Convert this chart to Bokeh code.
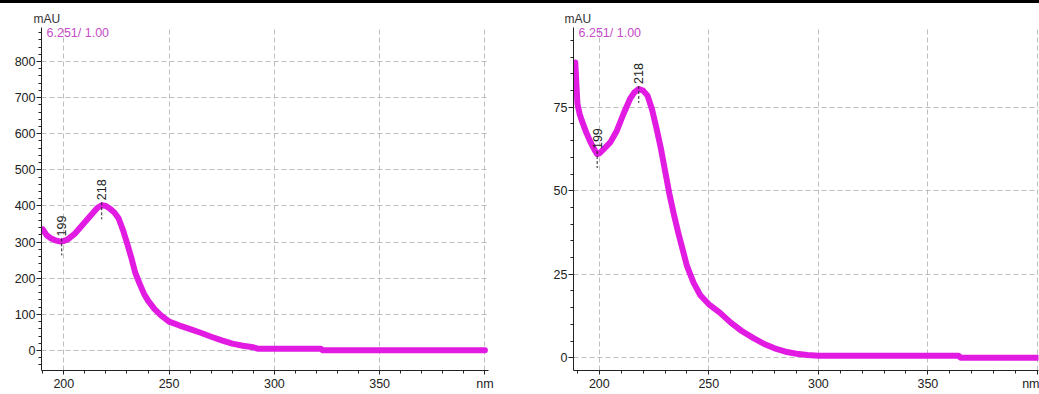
import numpy as np
from bokeh.plotting import figure
from bokeh.layouts import column, row
from bokeh.models import Div, FixedTicker, Range1d
from bokeh.core.properties import value
from bokeh.embed import file_html
from bokeh.resources import INLINE

# ---- data ----
wl_left = [190, 192, 194, 196, 198, 199, 200, 202, 205, 208, 211, 214, 216, 218,
           220, 222, 224, 226, 228, 230, 232, 234, 236, 238, 240, 243, 246, 250,
           255, 260, 265, 270, 275, 280, 285, 290, 292, 300, 310, 322, 323, 340,
           360, 380, 400]
abs_left = [335, 318, 310, 305, 302, 302, 303, 308, 322, 342, 362, 382, 395, 402,
            400, 392, 382, 366, 335, 298, 258, 214, 185, 158, 138, 115, 98, 80,
            69, 59, 49, 38, 28, 19, 13, 9, 5, 5, 5, 5, 0.5, 0.5,
            0.5, 0.5, 0.5]

wl_right = [189, 190, 191, 192, 194, 196, 198, 199, 200, 202, 205, 208, 211, 214,
            216, 218, 220, 222, 224, 226, 228, 230, 232, 234, 236, 238, 240, 243,
            246, 250, 255, 260, 265, 270, 275, 280, 285, 290, 295, 300, 320, 340,
            364, 365, 380, 400]
abs_right = [88.4, 76, 73, 71, 67.5, 64.5, 62, 61, 61.2, 62.5, 64.5, 68, 73, 77.5,
             79.5, 80.5, 80, 78.5, 74.5, 69, 63, 56, 49, 43, 37.5, 32.5, 27.5, 22.5,
             18.8, 16, 13.5, 10.5, 8, 6, 4.2, 2.8, 1.8, 1.2, 0.8, 0.6, 0.6, 0.6,
             0.6, 0, 0, 0]

peak_wl = [199, 218]
peak_left = [302, 402]
peak_right = [61, 80.5]

x_major = [200, 250, 300, 350, 400]
x_minor = list(range(190, 401, 10))
x_label_override = {400: "nm"}
left_y_major = [0, 100, 200, 300, 400, 500, 600, 700, 800]
left_y_minor = list(range(-40, 881, 20))
right_y_major = [0, 25, 50, 75]
right_y_minor = list(range(0, 96, 5))
info_text = "6.251/ 1.00"
y_unit = "mAU"

FONT = "Liberation Sans"
CURVE = "#E11BE1"
INFO = "#C64CC6"
GRID = "#BEBEBE"
AXIS = "#222222"
H = 391


def make_panel(wl, ab, peaks_y, xr, yr, y_major, y_minor, width,
               b_left, b_right, b_top, b_bottom, title_offset):
    p = figure(width=width, height=H, x_range=Range1d(*xr), y_range=Range1d(*yr),
               output_backend="svg", toolbar_location=None,
               min_border_left=b_left, min_border_right=b_right,
               min_border_top=b_top, min_border_bottom=b_bottom,
               background_fill_color="white", border_fill_color="white",
               outline_line_color=None)
    p.title.text = y_unit
    p.title.align = "left"
    p.title.offset = title_offset
    p.title.text_font = FONT
    p.title.text_font_size = "12px"
    p.title.text_font_style = "normal"
    p.title.text_color = "#333333"
    p.title.standoff = 3

    p.xaxis.ticker = FixedTicker(ticks=x_major, minor_ticks=x_minor)
    p.yaxis.ticker = FixedTicker(ticks=y_major, minor_ticks=y_minor)
    p.xaxis.major_label_overrides = x_label_override
    for ax in (p.xaxis, p.yaxis):
        ax.axis_line_color = AXIS
        ax.major_tick_line_color = AXIS
        ax.minor_tick_line_color = AXIS
        ax.minor_tick_line_width = 1
        ax.major_tick_in = 0
        ax.minor_tick_in = 0
        ax.major_label_text_font = FONT
        ax.major_label_text_font_size = "12.5px"
        ax.major_label_text_color = "#222222"
    p.yaxis.major_tick_out = 5
    p.yaxis.minor_tick_out = 3
    p.yaxis.major_label_standoff = 1
    p.xaxis.major_tick_out = 4
    p.xaxis.minor_tick_out = 3
    p.xaxis.major_label_standoff = 2

    for g in (p.xgrid, p.ygrid):
        g.grid_line_color = GRID
        g.grid_line_dash = "5 3"
        g.grid_line_width = 1

    p.line(wl, ab, line_color=CURVE, line_width=6, line_join="round", line_cap="round")

    # info text in the top-left corner of the frame
    p.text(x=[xr[0]], y=[yr[1]], text=[info_text], x_offset=5, y_offset=-2,
           text_baseline="top", text_align="left", text_color=INFO,
           text_font=value(FONT), text_font_size="12.5px")

    # peak markers
    frame_h = H - b_top - b_bottom
    px_per_unit = frame_h / (yr[1] - yr[0])
    up = 3 / px_per_unit
    down = 14 / px_per_unit
    p.segment(x0=peak_wl, y0=[v + up for v in peaks_y],
              x1=peak_wl, y1=[v - down for v in peaks_y],
              line_color="#222222", line_width=1, line_dash="3 2")
    p.text(x=peak_wl, y=peaks_y, text=[str(w) for w in peak_wl], angle=np.pi / 2,
           y_offset=-5, text_align="left", text_baseline="middle",
           text_color="#222222", text_font=value(FONT), text_font_size="12.5px")
    return p


p1 = make_panel(wl_left, abs_left, peak_left, (189.4, 401.7), (-55.4, 894),
                left_y_major, left_y_minor, 520, 41, 32, 24, 24, -8)
p2 = make_panel(wl_right, abs_right, peak_right, (188.2, 400.5), (-3.83, 98.9),
                right_y_major, right_y_minor, 519, 53, 1, 24, 24, -9)

bar = Div(text="", width=1039, height=3, margin=(0, 0, 0, 0),
          styles={"background-color": "black"})
layout = column(bar, row(p1, p2, spacing=0), spacing=0)

open("out.html", "w").write(file_html(layout, INLINE))
